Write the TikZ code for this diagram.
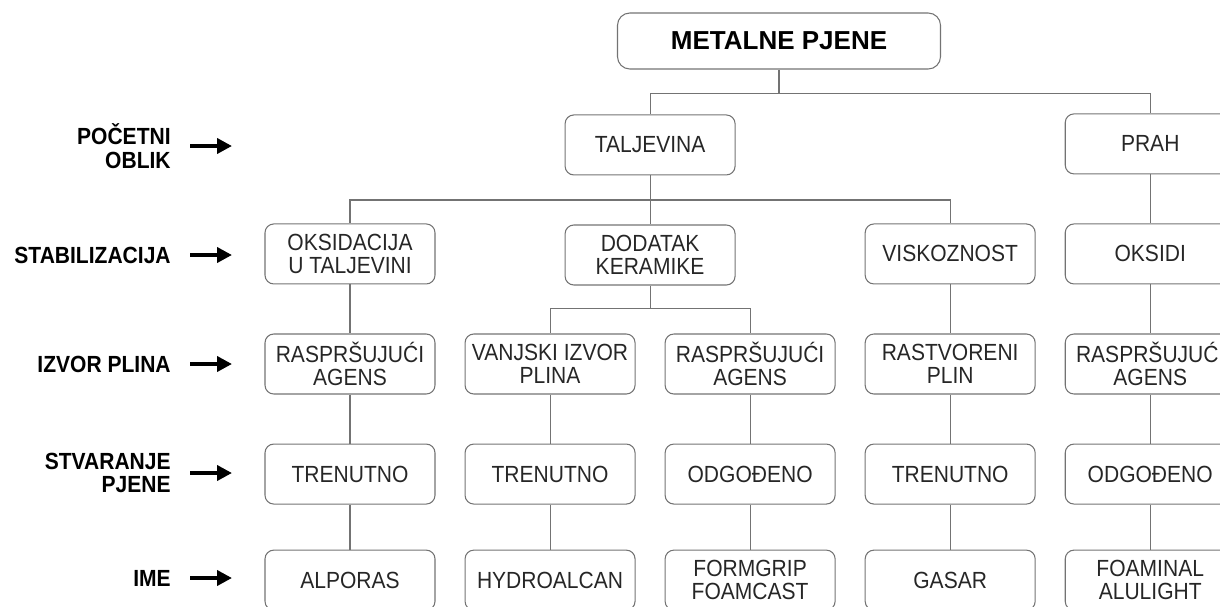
\documentclass[tikz,border=0pt]{standalone}
\usepackage{fontspec}
\setmainfont[FakeStretch=0.9]{Liberation Sans}
\newfontfamily\titlefont{Liberation Sans}
\usetikzlibrary{arrows.meta, positioning, calc}

\begin{document}
\begin{tikzpicture}[
node distance=0.98cm and 0.58cm,
box/.style={rectangle, draw=black!55, rounded corners=5pt, line width=0.6pt,
minimum width=3.4cm, minimum height=1.2cm, inner xsep=1pt, align=center,
text=black!85, font=\fontsize{13.3}{13.3}\selectfont},
rowlabel/.style={anchor=east, align=right, inner sep=0pt,
font=\bfseries\fontsize{13.3}{13.3}\selectfont},
link/.style={draw=black!55, line width=0.6pt},
arrow/.style={-{Triangle[length=8.5pt, width=8.5pt]}, line width=2.3pt}
]
\clip (0,0) rectangle (24.4,-12.12);

% izvor plina
\node[box] (izvA) at (7,-7.28) {RASPRŠUJUĆI\\AGENS};
\node[box, right=of izvA] (izvB) {VANJSKI IZVOR\\PLINA};
\node[box, right=of izvB] (izvC) {RASPRŠUJUĆI\\AGENS};
\node[box, right=of izvC] (izvD) {RASTVORENI\\PLIN};
\node[box, right=of izvD] (izvE) {RASPRŠUJUĆI\\AGENS};

% stabilizacija
\node[box, above=of izvA] (stabA) {OKSIDACIJA\\U TALJEVINI};
\node[box] (stabB) at ($(izvB)!0.5!(izvC)+(0,2.18)$) {DODATAK\\KERAMIKE};
\node[box, above=of izvD] (stabC) {VISKOZNOST};
\node[box, above=of izvE] (stabD) {OKSIDI};

% pocetni oblik
\node[box, above=of stabB] (taljevina) {TALJEVINA};
\node[box, above=of stabD] (prah) {PRAH};
\node[box, minimum width=6.46cm, minimum height=1.12cm, rounded corners=7pt,
text=black, font=\titlefont\bfseries\fontsize{14.8}{17}\selectfont] (pjene) at (15.58,-0.82) {METALNE PJENE};

% stvaranje pjene
\node[box, below=of izvA] (stvA) {TRENUTNO};
\node[box, below=of izvB] (stvB) {TRENUTNO};
\node[box, below=of izvC] (stvC) {ODGOĐENO};
\node[box, below=of izvD] (stvD) {TRENUTNO};
\node[box, below=of izvE] (stvE) {ODGOĐENO};

% ime
\node[box, below=0.9cm of stvA] (imeA) {ALPORAS};
\node[box, below=0.9cm of stvB] (imeB) {HYDROALCAN};
\node[box, below=0.9cm of stvC] (imeC) {FORMGRIP\\FOAMCAST};
\node[box, below=0.9cm of stvD] (imeD) {GASAR};
\node[box, below=0.9cm of stvE] (imeE) {FOAMINAL\\ALULIGHT};

% veze
\draw[link] (pjene.south) -- ++(0,-0.47) -| (taljevina.north);
\draw[link] (pjene.south) ++(0,-0.47) -| (prah.north);
\draw[link] (taljevina) -- (stabB);
\draw[link] (taljevina.south) ++(0,-0.49) -| (stabA.north);
\draw[link] (taljevina.south) ++(0,-0.49) -| (stabC.north);
\draw[link] (prah) -- (stabD);
\draw[link] (stabB.south) -- ++(0,-0.46) -| (izvB.north);
\draw[link] (stabB.south) ++(0,-0.46) -| (izvC.north);
\draw[link] (stabA) -- (izvA);
\draw[link] (stabC) -- (izvD);
\draw[link] (stabD) -- (izvE);
\draw[link] (izvA) -- (stvA);
\draw[link] (izvB) -- (stvB);
\draw[link] (izvC) -- (stvC);
\draw[link] (izvD) -- (stvD);
\draw[link] (izvE) -- (stvE);
\draw[link] (stvA) -- (imeA);
\draw[link] (stvB) -- (imeB);
\draw[link] (stvC) -- (imeC);
\draw[link] (stvD) -- (imeD);
\draw[link] (stvE) -- (imeE);

% razine
\node[rowlabel] (lOblik) at (3.42,-2.92) {POČETNI\\OBLIK};
\node[rowlabel] (lStab) at (3.42,-5.10) {STABILIZACIJA};
\node[rowlabel] (lIzvor) at (3.42,-7.28) {IZVOR PLINA};
\node[rowlabel] (lStvar) at (3.42,-9.46) {STVARANJE\\PJENE};
\node[rowlabel] (lIme) at (3.42,-11.56) {IME};

\draw[arrow] ([xshift=0.38cm]lOblik.east) -- ++(0.84,0);
\draw[arrow] ([xshift=0.38cm]lStab.east) -- ++(0.84,0);
\draw[arrow] ([xshift=0.38cm]lIzvor.east) -- ++(0.84,0);
\draw[arrow] ([xshift=0.38cm]lStvar.east) -- ++(0.84,0);
\draw[arrow] ([xshift=0.38cm]lIme.east) -- ++(0.84,0);

\end{tikzpicture}
\end{document}
